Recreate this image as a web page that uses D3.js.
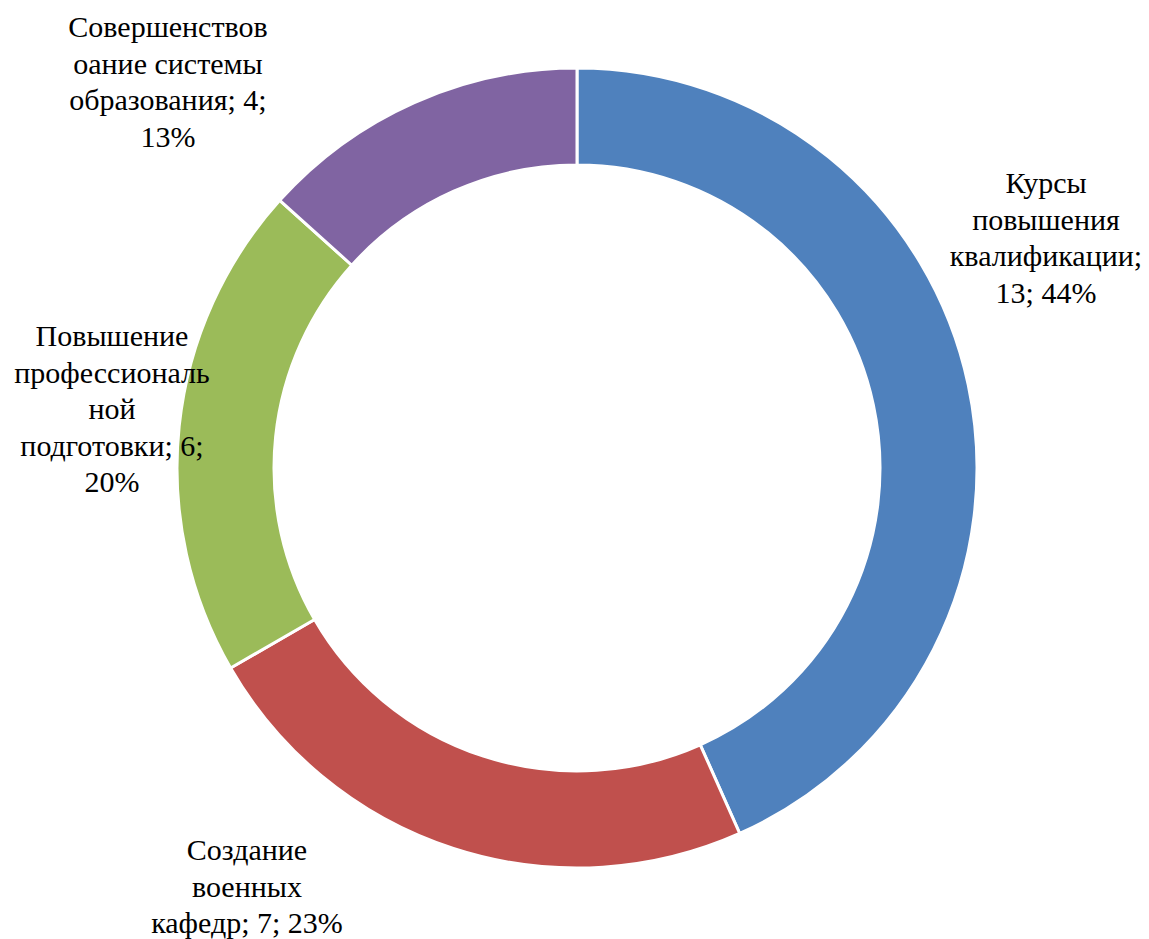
<!DOCTYPE html>
<html>
<head>
<meta charset="utf-8">
<script src="https://cdn.jsdelivr.net/npm/d3@7"></script>
<style>
  body { margin: 0; background: #fff; }
</style>
</head>
<body>
<div id="viz"></div>
<script>
// data
var categories = ["Курсы повышения квалификации", "Создание военных кафедр", "Повышение профессиональной подготовки", "Совершенствование системы образования"];
var values = [13, 7, 6, 4];
var percents = ["44%", "23%", "20%", "13%"];
var labelLines = [
  ["Курсы", "повышения", "квалификации;", "13; 44%"],
  ["Создание", "военных", "кафедр; 7; 23%"],
  ["Повышение", "профессиональ", "ной", "подготовки; 6;", "20%"],
  ["Совершенствов", "оание системы", "образования; 4;", "13%"]
];
var colors = ["#4F81BD", "#C0504D", "#9BBB59", "#8064A2"];

// layout
var width = 1149, height = 939;
var cx = 577, cy = 468, outerR = 400, innerR = 303;
var labelAnchor = [[1046, 193], [247, 860], [112, 346], [168, 37]];
var lineH = 36.5;

var svg = d3.select("#viz")
  .append("svg")
  .attr("width", width)
  .attr("height", height);

var pie = d3.pie().sort(null).value(function(d) { return d; });
var arc = d3.arc().innerRadius(innerR).outerRadius(outerR);

var g = svg.append("g").attr("transform", "translate(" + cx + "," + cy + ")");

g.selectAll("path").data(pie(values)).enter()
  .append("path")
  .attr("d", arc)
  .style("fill", function(d, i) { return colors[i]; })
  .style("stroke", "#fff")
  .style("stroke-width", 3)
  .append("title")
  .text(function(d, i) { return categories[i] + "; " + values[i] + "; " + percents[i]; });

// data labels, one text per line
labelLines.forEach(function(lines, i) {
  svg.selectAll("text.lbl" + i).data(lines).enter()
    .append("text")
    .attr("class", "lbl" + i)
    .attr("x", labelAnchor[i][0])
    .attr("y", function(s, k) { return labelAnchor[i][1] + k * lineH; })
    .attr("text-anchor", "middle")
    .style("font-family", "'Liberation Serif'")
    .style("font-size", "30px")
    .style("fill", "#000")
    .text(function(s) { return s; });
});
</script>
</body>
</html>
